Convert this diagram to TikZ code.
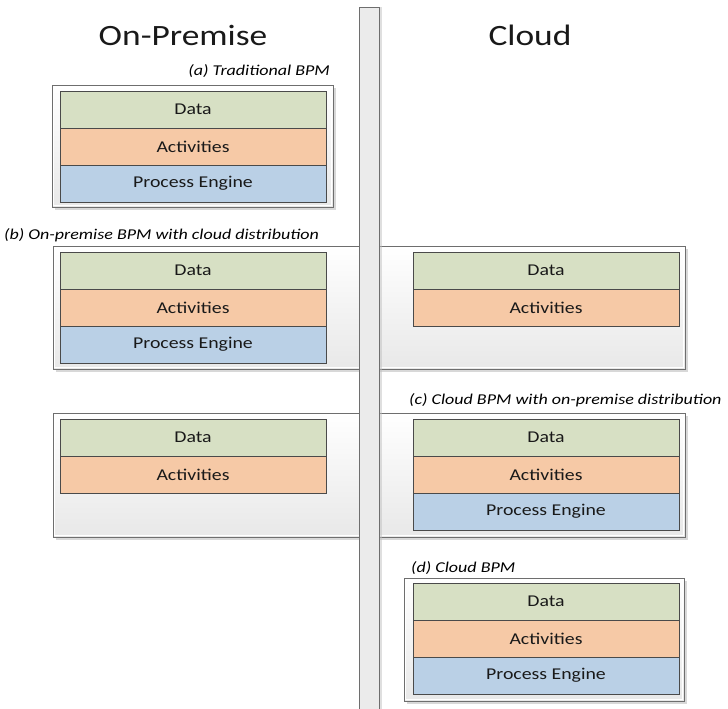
\documentclass[tikz,border=0pt]{standalone}
\usepackage{fontspec}
\setmainfont{Carlito}[FakeStretch=1.2]
\usetikzlibrary{shadows}
\definecolor{datagreen}{HTML}{D7E0C4}
\definecolor{actorange}{HTML}{F6C9A6}
\definecolor{engineblue}{HTML}{BAD0E6}
\definecolor{layerline}{HTML}{4A4A4A}
\definecolor{framegray}{HTML}{6E6E6E}
\definecolor{barfill}{HTML}{EBEBEB}
\tikzset{
	layer/.style={draw=layerline, line width=0.8pt, minimum width=266pt, minimum height=37pt,
		inner sep=0pt, outer sep=0pt, anchor=north west, text=black!90,
		font=\fontsize{16.5}{18}\selectfont},
	data/.style={layer, fill=datagreen},
	acts/.style={layer, fill=actorange},
	engine/.style={layer, fill=engineblue},
	frame/.style={top color=white, bottom color=black!9,
		drop shadow={shadow xshift=3pt, shadow yshift=-3pt, fill=black!30, opacity=0.5}},
	frameline/.style={draw=framegray, line width=1pt},
	bar/.style={draw=framegray, line width=0.8pt, fill=barfill,
		drop shadow={shadow xshift=3pt, shadow yshift=0pt, fill=black!25, opacity=0.5}},
	caption/.style={inner sep=0pt, text=black, font=\fontsize{15}{17}\selectfont\itshape},
	side/.style={inner sep=0pt, text=black!90, font=\fontsize{29.5}{32}\selectfont}
}
\def\twolayers[#1](#2){\node[data] (#1-data) at (#2) {Data};
	\node[acts] (#1-acts) at (#1-data.south west) {Activities};}
\def\threelayers[#1](#2){\twolayers[#1](#2)
	\node[engine] (#1-eng) at (#1-acts.south west) {Process Engine};}
\def\bpmframe(#1)(#2){\shade[frame] (#1) rectangle (#2);
	\draw[frameline] (#1) rectangle (#2);
	\draw[white, line width=0.9pt] ([shift={(1.8,1.8)}]#1) rectangle ([shift={(-1.8,-1.8)}]#2);}

\begin{document}
\begin{tikzpicture}[x=1pt, y=-1pt]
		%%%%% START %%%%%
		\useasboundingbox (0, 0) rectangle (728, 709);
		
		\node[side] (onprem) at (183, 35) {On-Premise};
		\node[side] (cloud) at (530, 35) {Cloud};
		
		% (a)
		\node[caption, anchor=east] (capa) at (330, 71) {(a) Traditional BPM};
		\bpmframe(52, 85)(333, 207)
		\threelayers[a](60, 91)
		
		% (b)
		\node[caption, anchor=west] (capb) at (4, 235) {(b) On-premise BPM with cloud distribution};
		\bpmframe(53, 246)(685, 369)
		\threelayers[bl](60, 252)
		\twolayers[br](413, 252)
		
		% (c)
		\node[caption, anchor=west] (capc) at (409, 400) {(c) Cloud BPM with on-premise distribution};
		\bpmframe(53, 413)(685, 537)
		\twolayers[cl](60, 419)
		\threelayers[cr](413, 419)
		
		% (d)
		\node[caption, anchor=west] (capd) at (411, 568) {(d) Cloud BPM};
		\bpmframe(404, 578)(684, 701)
		\threelayers[d](413, 583)
		
		% divider
		\draw[bar] (359, 7) rectangle (379, 712);
		
		%%%%% END %%%%%
	\end{tikzpicture}
\end{document}
